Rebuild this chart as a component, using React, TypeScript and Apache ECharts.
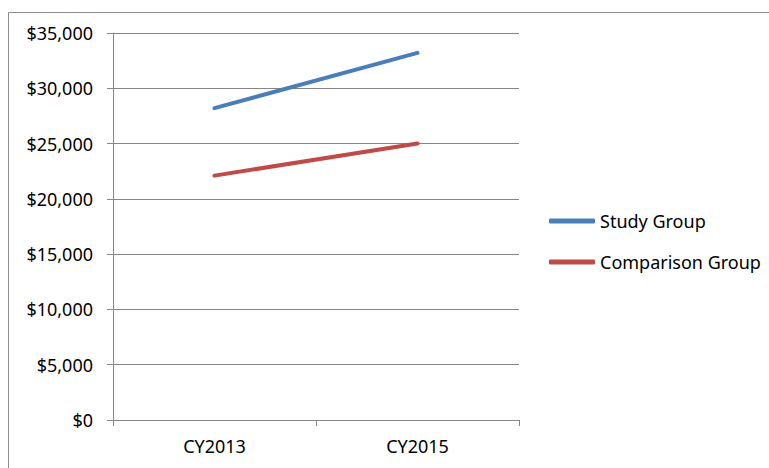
import React, { useEffect, useRef } from "react";
import * as echarts from "echarts";

const categories = ["CY2013", "CY2015"];
const studyGroup = [28200, 33200];
const comparisonGroup = [22100, 25000];
const seriesNames = ["Study Group", "Comparison Group"];

const FONT = "Noto Sans";

export default function App() {
  const ref = useRef<HTMLDivElement>(null);
  useEffect(() => {
    if (!ref.current) return;
    const chart = echarts.init(ref.current, undefined, { renderer: "svg" });
    chart.setOption({
      animation: false,
      backgroundColor: "#ffffff",
      textStyle: { fontFamily: FONT },
      graphic: [
        {
          type: "rect",
          shape: { x: 8.5, y: 12.5, width: 800, height: 500 },
          style: { fill: "none", stroke: "#8c8c8c", lineWidth: 1 },
          silent: true,
          z: -1,
        },
      ],
      grid: { left: 113, right: 250, top: 33, bottom: 48 },
      legend: {
        orient: "vertical",
        left: 544,
        top: 207,
        itemWidth: 46,
        itemHeight: 5,
        itemGap: 23,
        icon: "roundRect",
        textStyle: { fontFamily: FONT, fontSize: 18, color: "#000" },
        data: seriesNames,
      },
      xAxis: {
        type: "category",
        data: categories,
        boundaryGap: true,
        axisLine: { show: true, lineStyle: { color: "#868686", width: 1 } },
        axisTick: { show: true, length: 6, alignWithLabel: false, lineStyle: { color: "#868686" } },
        axisLabel: { color: "#000", fontFamily: FONT, fontSize: 18, margin: 17 },
        splitLine: { show: false },
      },
      yAxis: {
        type: "value",
        min: 0,
        max: 35000,
        interval: 5000,
        axisLine: { show: true, lineStyle: { color: "#868686", width: 1 } },
        axisTick: { show: true, length: 6, lineStyle: { color: "#868686" } },
        axisLabel: {
          color: "#000",
          fontFamily: FONT,
          fontSize: 18,
          margin: 20,
          formatter: (v: number) => "$" + v.toLocaleString("en-US"),
        },
        splitLine: { show: true, lineStyle: { color: "#868686", width: 1 } },
      },
      series: [
        {
          name: seriesNames[0],
          type: "line",
          data: studyGroup,
          symbol: "none",
          lineStyle: { color: "#4A7EBB", width: 4, cap: "round" },
          itemStyle: { color: "#4A7EBB" },
        },
        {
          name: seriesNames[1],
          type: "line",
          data: comparisonGroup,
          symbol: "none",
          lineStyle: { color: "#BE4B48", width: 4, cap: "round" },
          itemStyle: { color: "#BE4B48" },
        },
      ],
    });
    return () => chart.dispose();
  }, []);
  return (
    <div
      ref={ref}
      style={{ position: "fixed", left: 0, top: 0, width: 769, height: 468 }}
    />
  );
}
